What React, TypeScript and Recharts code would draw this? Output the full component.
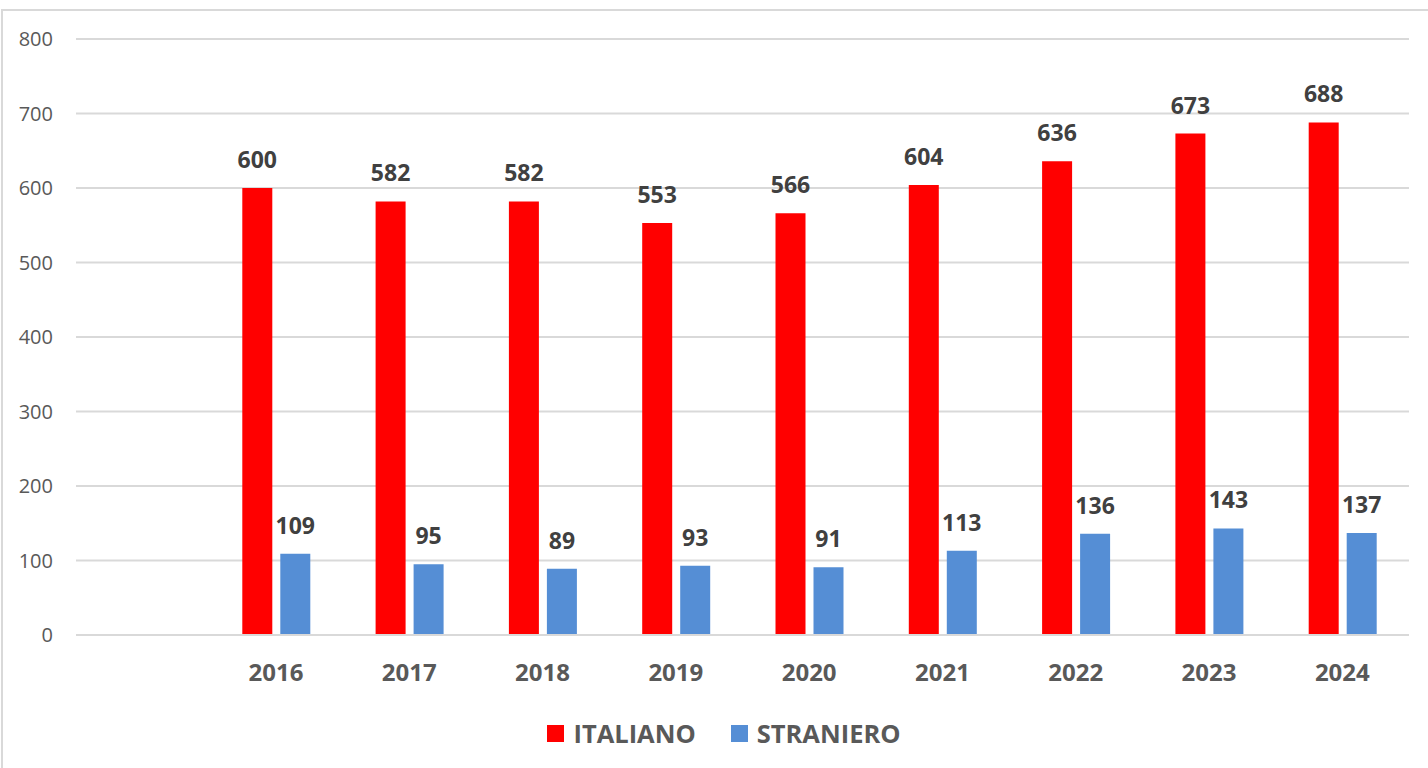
import React from 'react';
import { BarChart, Bar, XAxis, YAxis, CartesianGrid, LabelList } from 'recharts';

const years: string[] = ['', '2016', '2017', '2018', '2019', '2020', '2021', '2022', '2023', '2024'];
const italiano: (number | null)[] = [null, 600, 582, 582, 553, 566, 604, 636, 673, 688];
const straniero: (number | null)[] = [null, 109, 95, 89, 93, 91, 113, 136, 143, 137];
const yTicks: number[] = [0, 100, 200, 300, 400, 500, 600, 700, 800];

const seriesInfo = [
  { key: 'italiano', name: 'ITALIANO', color: '#FF0000' },
  { key: 'straniero', name: 'STRANIERO', color: '#558ED5' },
];

const data = years.map((y, i) => ({ year: y, italiano: italiano[i], straniero: straniero[i] }));

const FONT = '"Open Sans", "Noto Sans", sans-serif';

const LegendBox = () => (
  <div
    style={{
      position: 'absolute',
      left: 0,
      top: 716,
      width: 1428,
      height: 34,
      display: 'flex',
      justifyContent: 'center',
      alignItems: 'center',
      paddingLeft: 20,
      boxSizing: 'border-box',
      fontFamily: FONT,
      fontWeight: 700,
      fontSize: 25.5,
      color: '#595959',
    }}
  >
    {seriesInfo.map((s, i) => (
      <div key={s.key} style={{ display: 'flex', alignItems: 'center', marginLeft: i === 0 ? 0 : 35 }}>
        <div style={{ width: 17, height: 17, background: s.color, marginRight: 9 }} />
        <span>{s.name}</span>
      </div>
    ))}
  </div>
);

const fmt = (v: any) => (v === null || v === undefined ? '' : v);

export default function App() {
  return (
    <div
      style={{
        position: 'absolute',
        left: 0,
        top: 0,
        width: 1428,
        height: 768,
        overflow: 'hidden',
        background: '#ffffff',
      }}
    >
      <div
        style={{
          position: 'absolute',
          left: 1,
          top: 9,
          width: 1460,
          height: 800,
          border: '2px solid #d9d9d9',
        }}
      />
      <div style={{ position: 'absolute', left: 0, top: 0 }}>
        <BarChart
          width={1428}
          height={768}
          data={data}
          margin={{ top: 39, right: 19, bottom: 0, left: 0 }}
          barGap={8}
          barSize={30}
        >
          <CartesianGrid vertical={false} stroke="#d9d9d9" strokeWidth={2} />
          <XAxis
            dataKey="year"
            height={133}
            axisLine={{ stroke: '#d9d9d9', strokeWidth: 2 }}
            tickLine={false}
            tickSize={0}
            tickMargin={29}
            interval={0}
            tick={{ fill: '#595959', fontSize: 24, fontWeight: 700, fontFamily: FONT }}
          />
          <YAxis
            width={76}
            domain={[0, 800]}
            ticks={yTicks}
            axisLine={false}
            tickLine={false}
            tickSize={0}
            tickMargin={23}
            tick={{ fill: '#595959', fontSize: 20, fontFamily: FONT }}
          />
          {seriesInfo.map((s) => (
            <Bar key={s.key} dataKey={s.key} name={s.name} fill={s.color} isAnimationActive={false}>
              <LabelList
                dataKey={s.key}
                position="top"
                offset={20}
                formatter={fmt}
                style={{ fill: '#404040', fontSize: 23, fontWeight: 700, fontFamily: FONT }}
              />
            </Bar>
          ))}
        </BarChart>
      </div>
      <LegendBox />
    </div>
  );
}
